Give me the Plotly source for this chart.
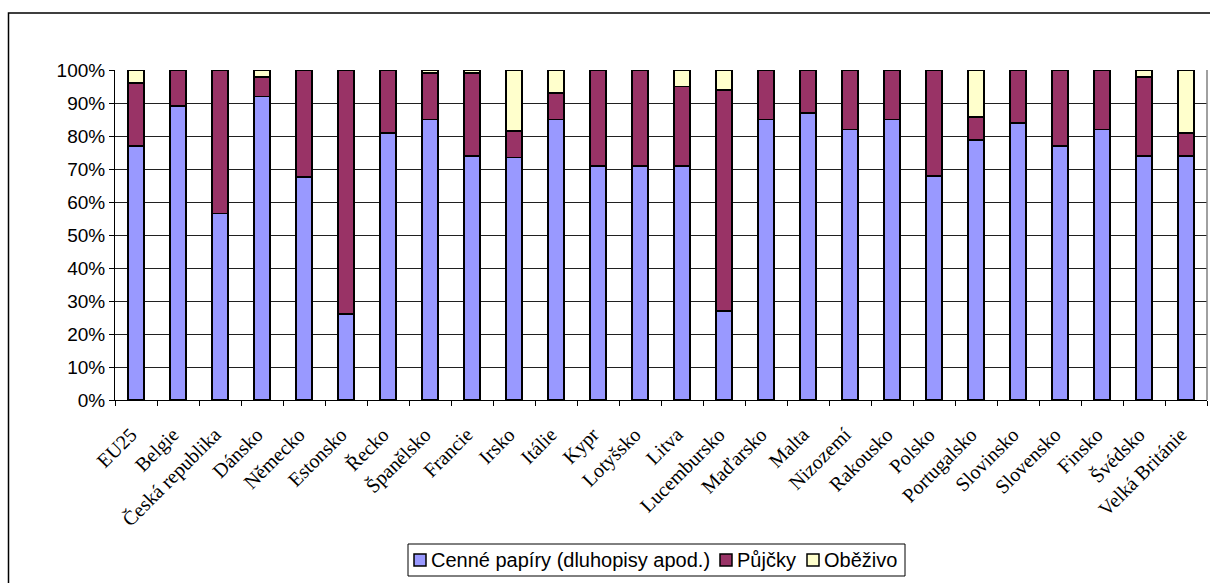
import plotly.graph_objects as go

# Composition of financial liabilities by country (share of total)
countries = [
    "EU25", "Belgie", "Česká republika", "Dánsko", "Německo", "Estonsko",
    "Řecko", "Španělsko", "Francie", "Irsko", "Itálie", "Kypr", "Lotyšsko",
    "Litva", "Lucembursko", "Maďarsko", "Malta", "Nizozemí", "Rakousko",
    "Polsko", "Portugalsko", "Slovinsko", "Slovensko", "Finsko", "Švédsko",
    "Velká Británie",
]

# Percent shares of each component
securities = [77, 89, 56.5, 92, 67.5, 26, 81, 85, 74, 73.5, 85, 71, 71,
              71, 27, 85, 87, 82, 85, 68, 78.7, 84, 77, 82, 74, 74]
loans = [19, 11, 43.5, 6, 32.5, 74, 19, 14, 25, 8, 8, 29, 29,
         24, 67, 15, 13, 18, 15, 32, 7.1, 16, 23, 18, 24, 7]
currency = [4, 0, 0, 2, 0, 0, 0, 1, 1, 18.5, 7, 0, 0,
            5, 6, 0, 0, 0, 0, 0, 14.2, 0, 0, 0, 2, 19]

series_names = ["Cenné papíry (dluhopisy apod.)", "Půjčky", "Oběživo"]
series_colors = ["#9999FF", "#993366", "#FFFFCC"]

W, H = 1210, 583
L, R, T, B = 115, 3, 70, 183
pw, ph = W - L - R, H - T - B


def px_x(x):
    return (x - L) / pw


def px_y(y):
    return (H - B - y) / ph


fig = go.Figure()
for name, vals, color in zip(series_names, [securities, loans, currency], series_colors):
    fig.add_trace(go.Bar(
        x=countries,
        y=[v / 100 for v in vals],
        name=name,
        marker=dict(color=color, line=dict(color="black", width=1.8)),
        width=0.37,
        showlegend=False,
    ))

# Legend box drawn as a framed row of swatches and labels
legend_font = 20
char_em = {"Cenné papíry (dluhopisy apod.)": 13.9, "Půjčky": 2.95, "Oběživo": 3.67}
box_x0, box_x1, box_y0, box_y1 = 408, 905, 544, 576
shapes = [
    # chart frame
    dict(type="rect", xref="paper", yref="paper",
         x0=px_x(8.5), x1=px_x(1216), y0=px_y(592), y1=px_y(13),
         line=dict(color="black", width=1.5), layer="below"),
    # plot area right edge
    dict(type="line", xref="paper", yref="paper",
         x0=1, x1=1, y0=0, y1=1, line=dict(color="#808080", width=1.5)),
    # legend frame
    dict(type="rect", xref="paper", yref="paper",
         x0=px_x(box_x0), x1=px_x(box_x1), y0=px_y(box_y1), y1=px_y(box_y0),
         line=dict(color="black", width=1), fillcolor="white"),
]
annotations = []
sw = 12
cx = box_x0 + 6
cy = (box_y0 + box_y1) / 2
gap = 13
for name, color in zip(series_names, series_colors):
    shapes.append(dict(type="rect", xref="paper", yref="paper",
                       x0=px_x(cx), x1=px_x(cx + sw),
                       y0=px_y(cy + sw / 2), y1=px_y(cy - sw / 2),
                       line=dict(color="black", width=1.5), fillcolor=color))
    annotations.append(dict(xref="paper", yref="paper", x=px_x(cx + sw + 3), y=px_y(cy),
                            xanchor="left", yanchor="middle", showarrow=False,
                            text=name, font=dict(family="Arial, Liberation Sans",
                                                 size=legend_font, color="black")))
    cx += sw + 3 + char_em[name] * legend_font + gap

fig.update_layout(
    width=W, height=H,
    margin=dict(l=L, r=R, t=T, b=B, pad=0),
    barmode="stack",
    paper_bgcolor="white",
    plot_bgcolor="white",
    font=dict(family="Arial, Liberation Sans", size=19, color="black"),
    showlegend=False,
    xaxis=dict(
        type="category",
        tickangle=-45,
        tickfont=dict(family="Times New Roman, Liberation Serif", size=20),
        ticks="outside", ticklen=5, tickcolor="black",
        tickson="boundaries",
        ticklabelstandoff=14,
        ticklabelshift=-5,
        showline=True, linecolor="black", linewidth=1,
        showgrid=False,
        range=[-0.5, len(countries) - 0.5],
    ),
    yaxis=dict(
        range=[0, 1],
        dtick=0.1,
        tickformat=".0%",
        ticks="outside", ticklen=5, tickcolor="black",
        showline=True, linecolor="black", linewidth=1,
        showgrid=True, gridcolor="#202020", gridwidth=1,
        tickfont=dict(family="Arial, Liberation Sans", size=19),
        zeroline=False,
    ),
    shapes=shapes,
    annotations=annotations,
)

fig.write_html("out.html")
